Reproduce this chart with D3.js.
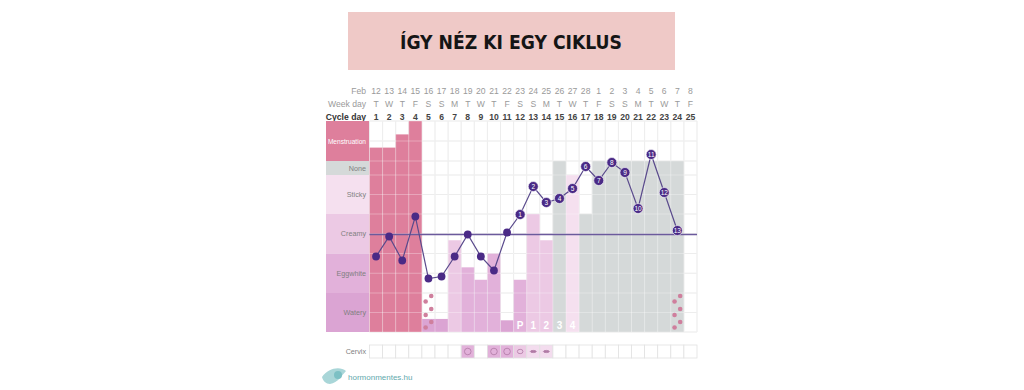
<!DOCTYPE html>
<meta charset="utf-8">
<script src="https://d3js.org/d3.v7.min.js"></script>
<title>Így néz ki egy ciklus</title>
<style>
  body { margin: 0; background: #fff; }
  svg { display: block; font-family: "Liberation Sans", Arial, sans-serif; }
</style>
<div id="chart"></div>
<script>
// --- data ---
var cycleDays = d3.range(1, 26);
var dates = [12,13,14,15,16,17,18,19,20,21,22,23,24,25,26,27,28,1,2,3,4,5,6,7,8];
var weekDays = ["T","W","T","F","S","S","M","T","W","T","F","S","S","M","T","W","T","F","S","S","M","T","W","T","F"];

// waking temperature (°C), day 25 not measured
var temps = [36.39,36.49,36.37,36.59,36.28,36.29,36.39,36.50,36.39,36.32,36.51,
             36.60,36.74,36.66,36.68,36.73,36.84,36.77,36.86,36.81,36.63,36.90,36.71,36.52,null];
var tempLabels = ["","","","","","","","","","","","1","2","3","4","5","6","7","8","9","10","11","12","13",""];
var coverline = 36.50;

// mucus / bleeding observation: category and level (0 = bottom of Watery, 11 = top of Menstruation)
var categories = ["Menstruation","None","Sticky","Creamy","Eggwhite","Watery"];
var fluidType = ["Menstruation","Menstruation","Menstruation","Menstruation","Watery","Watery","Creamy",
                 "Eggwhite","Eggwhite","Eggwhite","Watery","Eggwhite","Creamy","Creamy","None","Sticky",
                 "None","None","None","None","None","None","None","None",null];
var fluidLevel = [9.67,9.67,10.33,11,0.67,0.67,4.67,3.3,2.67,4,0.6,2.67,6,4.67,9,8,6,9,9,9,9,9,9,9,0];
var spottingDays = [5, 24];
var peakLabels = ["","","","","","","","","","","","P","1","2","3","4","","","","","","","","",""];
var cervix = [null,null,null,null,null,null,null,"open",null,"open","open","mid","closed","closed",
              null,null,null,null,null,null,null,null,null,null,null];

// --- colours ---
var catColor = d3.scaleOrdinal()
  .domain(categories)
  .range(["#de7f9c","#d5d9d9","#f5e0ef","#ecc9e4","#e2b1da","#dba4d3"]);
var catText = { Menstruation: "#fff" };

var W = 1024, H = 390;
var svg = d3.select("#chart").append("svg").attr("width", W).attr("height", H);

// title box
svg.append("rect").attr("x", 348).attr("y", 12).attr("width", 327).attr("height", 58)
  .attr("fill", "#efc9c7");
svg.append("text").attr("x", 511).attr("y", 49)
  .attr("text-anchor", "middle")
  .attr("textLength", 222).attr("lengthAdjust", "spacingAndGlyphs")
  .style("font-family", "'DejaVu Sans Condensed', 'DejaVu Sans', sans-serif")
  .style("font-weight", "bold")
  .style("font-size", "20px").attr("fill", "#151515")
  .text("ÍGY NÉZ KI EGY CIKLUS");

// scales
var x = d3.scaleBand().domain(cycleDays).range([369.5, 697]);
var level = d3.scaleLinear().domain([0,2,4,6,8,9,11]).range([332,293,253.5,214,175,161,121]);
var yTemp = d3.scaleLinear().domain([36.2, 37.0]).range([294.5, 134.5]);
var catBand = { Watery: [0,2], Eggwhite: [2,4], Creamy: [4,6], Sticky: [6,8], None: [8,9], Menstruation: [9,11] };
var cx = function(d) { return x(d) + x.bandwidth() / 2; };
var panelLeft = 326, labelX = 366;

// header rows
var head = svg.append("g").style("font-size", "8.6px");
head.append("text").attr("x", labelX).attr("y", 94).attr("text-anchor", "end").attr("fill", "#9a9a9a").text("Feb");
head.append("text").attr("x", labelX).attr("y", 107).attr("text-anchor", "end").attr("fill", "#9a9a9a").text("Week day");
head.append("text").attr("x", labelX).attr("y", 120).attr("text-anchor", "end").attr("fill", "#333")
  .style("font-weight", "bold").text("Cycle day");
head.selectAll(".date").data(cycleDays).enter().append("text")
  .attr("x", cx).attr("y", 94).attr("text-anchor", "middle").attr("fill", "#9a9a9a")
  .text(function(d, i) { return dates[i]; });
head.selectAll(".wd").data(cycleDays).enter().append("text")
  .attr("x", cx).attr("y", 107).attr("text-anchor", "middle").attr("fill", "#9a9a9a")
  .text(function(d, i) { return weekDays[i]; });
head.selectAll(".cd").data(cycleDays).enter().append("text")
  .attr("x", cx).attr("y", 120).attr("text-anchor", "middle").attr("fill", "#444")
  .style("font-weight", "bold").text(function(d) { return d; });

// left category panel
var panel = svg.append("g");
panel.selectAll("rect").data(categories).enter().append("rect")
  .attr("x", panelLeft).attr("width", 369.5 - panelLeft)
  .attr("y", function(d) { return level(catBand[d][1]); })
  .attr("height", function(d) { return level(catBand[d][0]) - level(catBand[d][1]); })
  .attr("fill", catColor);
panel.selectAll("text").data(categories).enter().append("text")
  .attr("x", labelX).attr("text-anchor", "end")
  .attr("y", function(d) { return (level(catBand[d][0]) + level(catBand[d][1])) / 2 + 2.5; })
  .style("font-size", function(d) { return d === "Menstruation" ? "6.6px" : "7.2px"; })
  .attr("fill", function(d) { return catText[d] || "#808080"; })
  .text(function(d) { return d; });

// gray grid under bars
var rows = d3.range(0, 12);
var grid = svg.append("g").attr("stroke", "#e6e6e6").attr("stroke-width", 1);
grid.selectAll(".v").data(d3.range(0, 26)).enter().append("line")
  .attr("x1", function(i) { return 369.5 + i * x.bandwidth(); })
  .attr("x2", function(i) { return 369.5 + i * x.bandwidth(); })
  .attr("y1", level(11)).attr("y2", level(0));
grid.selectAll(".h").data(rows).enter().append("line")
  .attr("x1", 369.5).attr("x2", 697)
  .attr("y1", function(d) { return level(d); }).attr("y2", function(d) { return level(d); });

// observation bars
svg.append("g").selectAll("rect").data(cycleDays.filter(function(d, i) { return fluidType[i]; }))
  .enter().append("rect")
  .attr("x", function(d) { return x(d); })
  .attr("width", x.bandwidth())
  .attr("y", function(d) { return level(fluidLevel[d - 1]); })
  .attr("height", function(d) { return level(0) - level(fluidLevel[d - 1]); })
  .attr("fill", function(d) { return catColor(fluidType[d - 1]); });

// light grid over bars
var grid2 = svg.append("g").attr("stroke", "#fff").attr("stroke-opacity", 0.3).attr("stroke-width", 1);
grid2.selectAll(".v").data(d3.range(0, 26)).enter().append("line")
  .attr("x1", function(i) { return 369.5 + i * x.bandwidth(); })
  .attr("x2", function(i) { return 369.5 + i * x.bandwidth(); })
  .attr("y1", level(11)).attr("y2", level(0));
grid2.selectAll(".h").data(rows).enter().append("line")
  .attr("x1", 369.5).attr("x2", 697)
  .attr("y1", function(d) { return level(d); }).attr("y2", function(d) { return level(d); });

// spotting dots
var spotOffsets = [[2.8,-36],[-2.8,-30.5],[2.8,-23],[-2.8,-17],[2.8,-10],[-2.8,-4.5]];
spottingDays.forEach(function(day) {
  svg.append("g").selectAll("circle").data(spotOffsets).enter().append("circle")
    .attr("cx", function(o) { return cx(day) + o[0]; })
    .attr("cy", function(o) { return level(0) + o[1]; })
    .attr("r", 2.3).attr("fill", "#cf7f9d");
});

// peak day labels
svg.append("g").selectAll("text").data(cycleDays.filter(function(d) { return peakLabels[d - 1]; }))
  .enter().append("text")
  .attr("x", cx).attr("y", 329).attr("text-anchor", "middle")
  .style("font-size", "10px").style("font-weight", "bold").attr("fill", "#fff")
  .text(function(d) { return peakLabels[d - 1]; });

// coverline
svg.append("line").attr("x1", 369.5).attr("x2", 697)
  .attr("y1", yTemp(coverline)).attr("y2", yTemp(coverline))
  .attr("stroke", "#6b5a9c").attr("stroke-width", 1.5);

// temperature curve
var tempDays = cycleDays.filter(function(d) { return temps[d - 1] != null; });
var line = d3.line().x(cx).y(function(d) { return yTemp(temps[d - 1]); });
svg.append("path").datum(tempDays).attr("d", line)
  .attr("fill", "none").attr("stroke", "#5a4a8c").attr("stroke-width", 1.2);
var dots = svg.append("g").selectAll("g").data(tempDays).enter().append("g")
  .attr("transform", function(d) { return "translate(" + cx(d) + "," + yTemp(temps[d - 1]) + ")"; });
dots.append("circle")
  .attr("r", function(d) { return tempLabels[d - 1] ? 5 : 3.9; })
  .attr("fill", "#4a2a86")
  .attr("stroke", function(d) { return tempLabels[d - 1] ? "#fff" : "none"; })
  .attr("stroke-width", 0.6);
dots.append("text").attr("y", 2.3).attr("text-anchor", "middle")
  .style("font-size", "6.5px").attr("fill", "#fff")
  .text(function(d) { return tempLabels[d - 1]; });

// cervix row
var cy0 = 345, cyH = 13;
svg.append("text").attr("x", labelX).attr("y", cy0 + 9).attr("text-anchor", "end")
  .style("font-size", "7.2px").attr("fill", "#808080").text("Cervix");
var cervixFill = { open: "#e2b1da", mid: "#ecc9e4", closed: "#f3dcee" };
var cells = svg.append("g").selectAll("g").data(cycleDays).enter().append("g");
cells.append("rect")
  .attr("x", function(d) { return x(d); }).attr("y", cy0)
  .attr("width", x.bandwidth()).attr("height", cyH)
  .attr("fill", function(d) { return cervix[d - 1] ? cervixFill[cervix[d - 1]] : "#fff"; })
  .attr("stroke", "#e2e2e2").attr("stroke-width", 0.8);
cells.filter(function(d) { return cervix[d - 1]; }).append("ellipse")
  .attr("cx", cx).attr("cy", cy0 + cyH / 2)
  .attr("rx", function(d) { return cervix[d - 1] === "closed" ? 3 : cervix[d - 1] === "mid" ? 2.8 : 3.3; })
  .attr("ry", function(d) { return cervix[d - 1] === "closed" ? 1.1 : cervix[d - 1] === "mid" ? 2.2 : 3.3; })
  .attr("fill", function(d) { return cervix[d - 1] === "closed" ? "#b07aa5" : "none"; })
  .attr("stroke", "#b07aa5").attr("stroke-width", 0.8);

// logo
var logo = svg.append("g");
logo.append("path")
  .attr("d", "M322,377 C328,368 340,366 346,371 C342,375 338,383 330,384 C326,384 323,381 322,377 Z")
  .attr("fill", "#a9d6d8");
logo.append("circle").attr("cx", 338).attr("cy", 375).attr("r", 4).attr("fill", "#7cc0c4");
logo.append("text").attr("x", 348).attr("y", 380)
  .style("font-size", "8px").attr("fill", "#5fa9ad").text("hormonmentes.hu");
</script>
